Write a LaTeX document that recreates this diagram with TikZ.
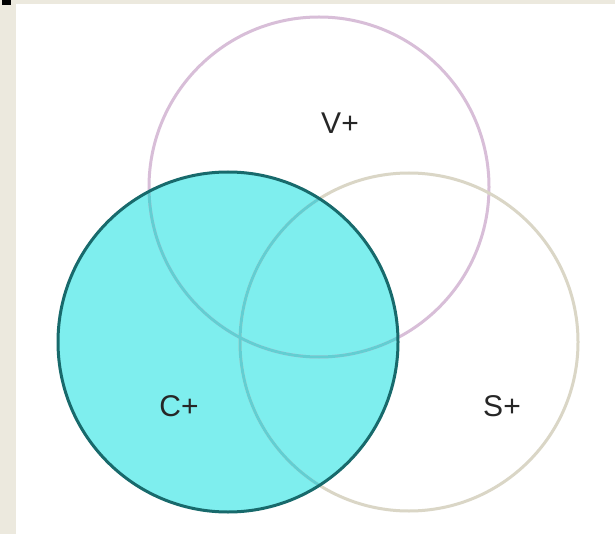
\documentclass[tikz,border=0pt]{standalone}
\usepackage{fontspec}
\setmainfont{Liberation Sans}
\definecolor{bgbeige}{RGB}{236,233,222}
\definecolor{vline}{RGB}{216,190,216}
\definecolor{sline}{RGB}{218,214,198}
\definecolor{cfill}{RGB}{126,238,238}
\definecolor{cedge}{RGB}{24,106,108}
\definecolor{inline}{RGB}{98,206,210}
\begin{document}
\begin{tikzpicture}[x=1pt,y=-1pt,
  setcircle/.style={line width=3pt},
  setlabel/.style={font=\fontsize{30}{30}\selectfont, text=black!85}]
\useasboundingbox (0,0) rectangle (615,534);
\fill[bgbeige] (0,0) rectangle (615,534);
\fill[white] (16,4) rectangle (615,534);
\fill[black] (2,0) rectangle (11,5);
% cyan fill
\fill[cfill] (228,342) circle[radius=170];
% V and S outlines
\draw[setcircle, vline] (319,187) circle[radius=170];
\draw[setcircle, sline] (409,342) circle[radius=169];
% parts of outlines inside the cyan disc
\begin{scope}
  \clip (228,342) circle[radius=170];
  \draw[setcircle, inline] (319,187) circle[radius=170];
  \draw[setcircle, inline] (409,342) circle[radius=169];
\end{scope}
% C outline
\draw[setcircle, cedge] (228,342) circle[radius=170];
\node[setlabel] (v) at (340,123) {V+};
\node[setlabel] (c) at (179,406) {C+};
\node[setlabel] (s) at (502,406) {S+};
\end{tikzpicture}
\end{document}
